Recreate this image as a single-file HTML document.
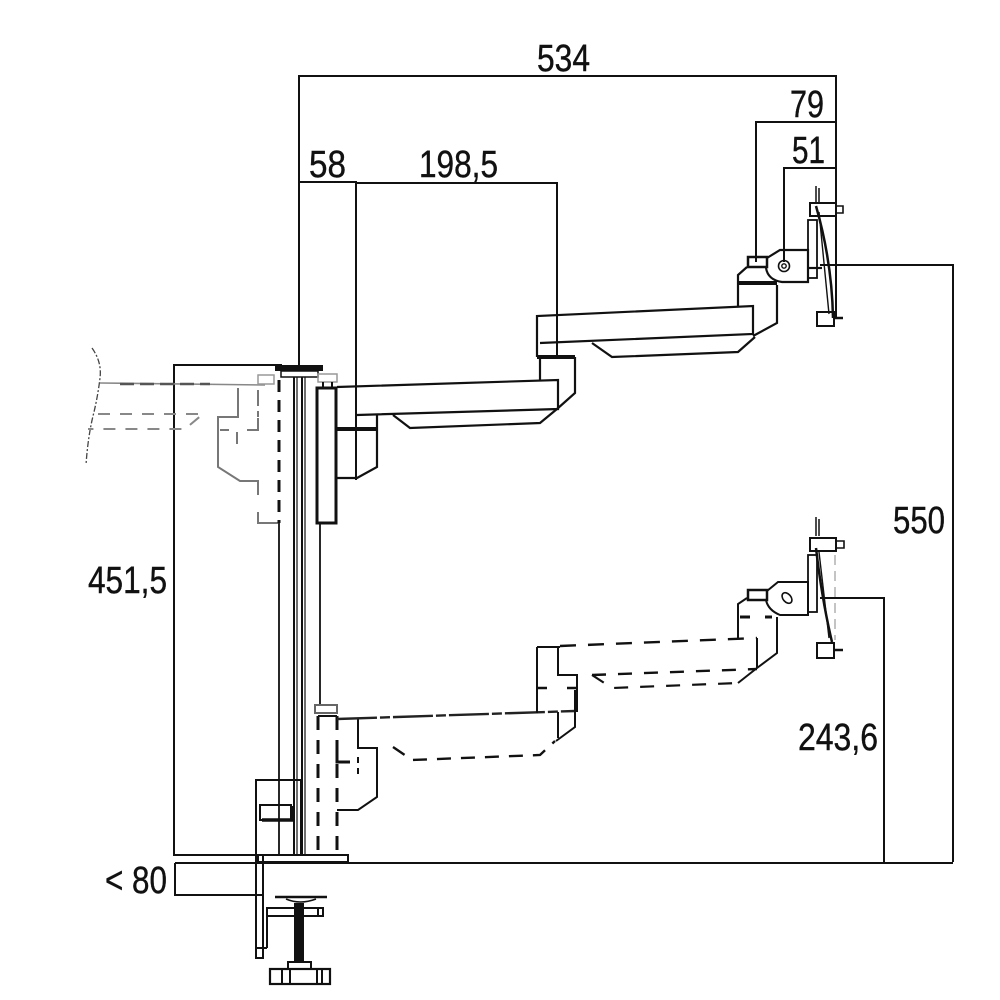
<!DOCTYPE html>
<html><head><meta charset="utf-8"><style>
html,body{margin:0;padding:0;background:#fff;}
svg{display:block;}
text{font-family:"Liberation Sans",sans-serif;font-size:38px;fill:#111;stroke:#111;stroke-width:0.4;}
</style></head><body>
<svg width="1000" height="1000" viewBox="0 0 1000 1000" xmlns="http://www.w3.org/2000/svg">
<rect width="1000" height="1000" fill="#fff"/>

<!-- ===== Dimension lines ===== -->
<g fill="none" stroke="#111" stroke-width="2">
  <path d="M299 366 V76 H836 V318"/>
  <path d="M756 262 V122 H836"/>
  <path d="M784 262 V168 H836"/>
  <path d="M299 182 H356 V480"/>
  <path d="M356 183 H557 V357"/>
  <path d="M820 265 H953 V862"/>
  <path d="M820 598 H884 V862"/>
  <path d="M282 365 H174 V855 H258"/>
  <path d="M175 863 H953"/>
  <path d="M175 863 V895 H262"/>
</g>

<!-- ===== Labels ===== -->
<text x="537" y="71" textLength="53" lengthAdjust="spacingAndGlyphs">534</text>
<text x="790" y="117" textLength="34" lengthAdjust="spacingAndGlyphs">79</text>
<text x="792" y="163" textLength="33" lengthAdjust="spacingAndGlyphs">51</text>
<text x="309" y="177" textLength="37" lengthAdjust="spacingAndGlyphs">58</text>
<text x="419" y="177" textLength="79" lengthAdjust="spacingAndGlyphs">198,5</text>
<text x="893" y="533" textLength="52" lengthAdjust="spacingAndGlyphs">550</text>
<text x="88" y="593" textLength="79" lengthAdjust="spacingAndGlyphs">451,5</text>
<text x="798" y="750" textLength="80" lengthAdjust="spacingAndGlyphs">243,6</text>
<text x="105" y="893" textLength="62" lengthAdjust="spacingAndGlyphs">&lt; 80</text>

<!-- ===== Desk (left, ghost) ===== -->
<g fill="none" stroke="#888" stroke-width="1.6">
  <path d="M92 348 Q102 362 100 378 Q98 395 94 412 Q88 435 86 465" stroke="#444" stroke-width="1.3" stroke-dasharray="6 2 2 2"/>
  <path d="M100 383 L265 385"/>
  <path d="M120 384 H210" stroke="#555" stroke-width="2.5" stroke-dasharray="14 6"/>
  <path d="M98 414 H203 L185 429 H88" stroke-dasharray="12 10" stroke-width="2"/>
</g>

<!-- ghost bracket (left of pole) -->
<g fill="none" stroke="#777" stroke-width="2">
  <path d="M238 388 V417 H218 V467 L240 481 H258 V495"/>
  <path d="M258 512 V523 H278"/>
  <path d="M220 430 H229 M247 430 H258 V418 M237 432 V444 M258 390 V400"/>
  <path d="M258 400 V418" stroke-dasharray="6 5"/>
</g>

<!-- ===== Pole ===== -->
<g fill="none" stroke="#111">
  <rect x="275" y="365" width="48" height="6" fill="#111" stroke="none"/>
  <rect x="281" y="371" width="37" height="6" stroke-width="1.5"/>
  <rect x="258" y="375" width="16" height="9" stroke="#999" stroke-width="1.5"/>
  <path d="M279 380 V523" stroke-width="3" stroke-dasharray="12 8"/>
  <path d="M279 523 V855" stroke-width="1.8"/>
  <path d="M294 377 V855" stroke-width="2"/>
  <path d="M297 377 V855" stroke-width="1.2"/>
  <path d="M302 377 V855" stroke-width="2"/>
  <path d="M305 377 V855" stroke-width="1.2"/>
  <path d="M320 523 V705" stroke-width="1.8"/>
</g>

<!-- ===== Upper arm (solid) ===== -->
<g fill="none" stroke="#111" stroke-width="2.2" stroke-linejoin="miter">
  <rect x="317" y="388" width="19" height="135" stroke-width="3"/>
  <rect x="318" y="374" width="19" height="8" stroke="#999" stroke-width="1.5"/>
  <path d="M323 382 V388 M332 382 V388" stroke-width="2"/>
  <path d="M336 429 H377" stroke-width="4"/>
  <path d="M377 415 V467 L357 478 H337" stroke-width="2.2"/>
  <path d="M337 387 L558 380 V409 L357 415"/>
  <path d="M393 415 L410 428 L540 423 L557 409"/>
  <path d="M537 357 H575" stroke-width="4"/>
  <path d="M540 357 V380"/>
  <path d="M575 357 V393 L557 409"/>
  <path d="M537 357 V316 L753 306 V334 L540 343"/>
  <path d="M592 343 L612 357 L738 352 L755 337"/>
  <path d="M753 336 L777 323 V285"/>
  <path d="M738 283 H777" stroke-width="4"/>
  <path d="M738 306 V275 L747 267"/>
  <rect x="748" y="257" width="19" height="10" stroke-width="2.5"/>
  <path d="M767 258 L780 250 H808 V282 H782 Q768 280 766 268" />
  <circle cx="784" cy="266" r="5.5" stroke-width="1.6"/>
  <circle cx="784" cy="266" r="2.2" stroke-width="1.4"/>
  <rect x="808" y="220" width="9" height="58" stroke-width="1.8"/>
  <path d="M816 206 Q832 262 833 318" stroke-width="2.5"/>
  <path d="M819 212 L829 314" stroke-width="1.4"/>
  <rect x="810" y="203" width="26" height="13" stroke-width="2"/>
  <path d="M836 206 H843 V213 H836" stroke-width="1.6"/>
  <path d="M816 186 V202 M819 188 V202" stroke-width="1.5"/>
  <rect x="817" y="312" width="17" height="14" stroke-width="2"/>
  <path d="M834 318 H843" stroke-width="2.5"/>
  <path d="M822 268 H808"/>
</g>

<!-- ===== Lower arm (ghost / dashed) ===== -->
<g fill="none" stroke="#111" stroke-width="2">
  <rect x="315" y="705" width="22" height="8" stroke="#666" stroke-width="2"/>
  <path d="M318 716 H337"/>
  <path d="M318 716 V855 M337 716 V855" stroke-width="3" stroke-dasharray="14 10"/>
  <path d="M358 719 V748 H377 V797 L358 810 H337"/>
  <path d="M337 750 V762 H350" stroke-width="3"/>
  <path d="M358 757 V777" stroke-dasharray="6 5"/>
  <path d="M337 719 L575 711" stroke="#222" stroke-width="2.4" stroke-dasharray="40 3 10 3"/>
  <path d="M558 712 V738"/>
  <path d="M575 690 V727 L556 741"/>
  <path d="M393 747 L412 760 L540 755 L555 741" stroke-dasharray="14 10" stroke-width="2.4"/>
  <path d="M537 647 H560 M537 647 V713 M558 647 V675 H577 V712"/>
  <path d="M537 688 H547 M567 688 H577" stroke-width="2.5"/>
  <path d="M560 646 L757 638" stroke-dasharray="16 12" stroke-width="2.4"/>
  <path d="M757 638 V668"/>
  <path d="M592 675 L757 669" stroke-dasharray="14 12" stroke-width="2.4"/>
  <path d="M592 675 L612 688 L738 683" stroke-dasharray="14 12" stroke-width="2.2"/>
  <path d="M738 683 L757 668 L777 653 V617"/>
  <path d="M738 638 V604 L747 598"/>
  <path d="M740 617 H750 M765 617 H772" stroke-width="3"/>
  <rect x="748" y="590" width="19" height="10" stroke-width="2.5"/>
  <path d="M767 591 L778 582 H808 V615 H780 Q768 610 766 600"/>
  <ellipse cx="787" cy="598" rx="4" ry="6" transform="rotate(-40 787 598)" stroke-width="1.6"/>
  <rect x="808" y="555" width="9" height="57" stroke-width="1.8"/>
  <path d="M816 548 Q822 600 832 642" stroke-width="2.5"/>
  <path d="M819 552 L829 638" stroke-width="1.4"/>
  <rect x="810" y="538" width="26" height="13" stroke-width="2"/>
  <path d="M836 541 H844 V548 H836" stroke-width="1.6"/>
  <path d="M816 517 V536 M819 519 V536" stroke-width="1.5"/>
  <rect x="817" y="643" width="17" height="15" stroke-width="2"/>
  <path d="M834 650 H843" stroke-width="2.5"/>
  <path d="M835 555 V640" stroke="#aaa" stroke-width="1.4" stroke-dasharray="10 6"/>
</g>

<!-- ===== Clamp ===== -->
<g fill="none" stroke="#111" stroke-width="2">
  <rect x="258" y="855" width="90" height="7" fill="#fff"/>
  <path d="M256 855 V780 H301 V855"/>
  <rect x="260" y="805" width="31" height="15" stroke-width="2"/>
  <path d="M262 820 H292 V806" stroke-width="3.5"/>
  <path d="M256 855 V958 H263 V855"/>
  <path d="M256 948 H267"/>
  <path d="M267 948 V908 H323 V916 H267"/>
  <path d="M318 908 V916"/>
  <path d="M275 897 H327" stroke-width="2.5"/>
  <path d="M286 899 Q300 905 316 899" stroke-width="1.5"/>
  <rect x="294" y="903" width="10" height="59" fill="#111" stroke="none"/>
  <rect x="288" y="962" width="23" height="7"/>
  <rect x="270" y="969" width="60" height="15" stroke-width="2.2"/>
  <path d="M282 969 V984 M290 969 V984 M317 969 V984 M322 969 V984"/>
</g>
</svg>
</body></html>
